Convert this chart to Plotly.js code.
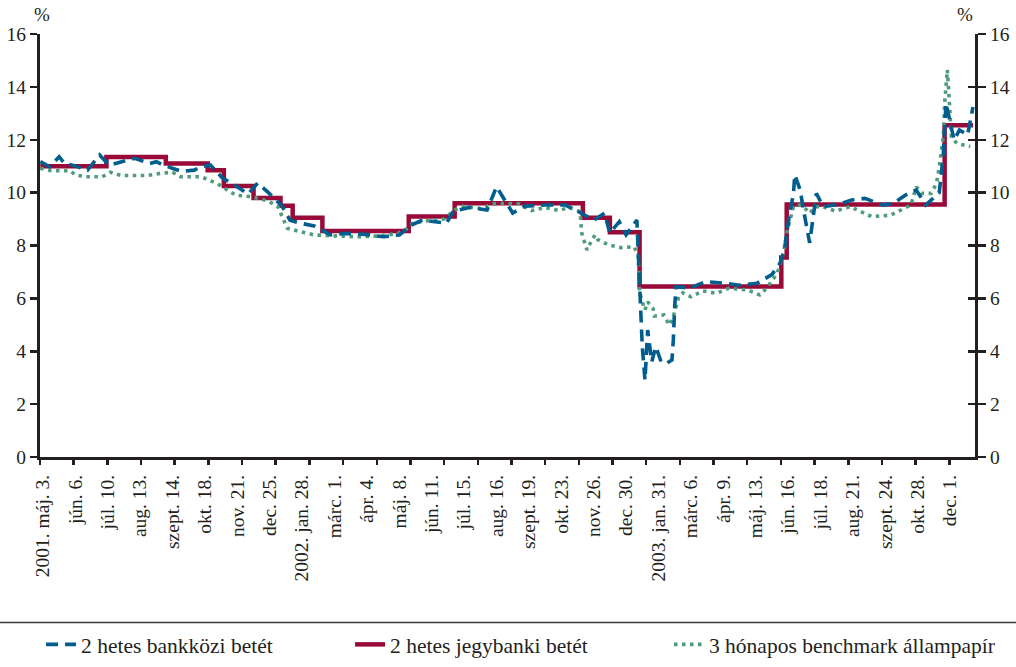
<!DOCTYPE html>
<html>
<head>
<meta charset="utf-8">
<script src="https://cdn.plot.ly/plotly-3.0.1.min.js"></script>
<style>html,body{margin:0;padding:0;background:#fff;}#chart{width:1016px;height:667px;}</style>
</head>
<body>
<div id="chart"></div>
<script>
// ---- data ----
const tickLabelDates = ["2001-05-03","2001-06-06","2001-07-10","2001-08-13","2001-09-14","2001-10-18","2001-11-21","2001-12-25",
  "2002-01-28","2002-03-01","2002-04-04","2002-05-08","2002-06-11","2002-07-15","2002-08-16","2002-09-19","2002-10-23","2002-11-26","2002-12-30",
  "2003-01-31","2003-03-06","2003-04-09","2003-05-13","2003-06-16","2003-07-18","2003-08-21","2003-09-24","2003-10-28","2003-12-01"];
const tickLabels = ["2001. máj. 3.","jún. 6.","júl. 10.","aug. 13.","szept. 14.","okt. 18.","nov. 21.","dec. 25.",
  "2002. jan. 28.","márc. 1.","ápr. 4.","máj. 8.","jún. 11.","júl. 15.","aug. 16.","szept. 19.","okt. 23.","nov. 26.","dec. 30.",
  "2003. jan. 31.","márc. 6.","ápr. 9.","máj. 13.","jún. 16.","júl. 18.","aug. 21.","szept. 24.","okt. 28.","dec. 1."];

const blueName = "2 hetes bankközi betét";
const blueDates = ["2001-05-01","2001-05-10","2001-05-21","2001-05-25","2001-06-04","2001-06-19","2001-07-02","2001-07-11","2001-07-23","2001-08-07",
  "2001-08-22","2001-08-29","2001-09-05","2001-09-25","2001-10-08","2001-10-15","2001-10-24","2001-11-06","2001-11-20","2001-12-03",
  "2001-12-12","2001-12-24","2002-01-07","2002-01-11","2002-01-15","2002-01-24","2002-02-08","2002-02-26","2002-03-14","2002-04-03",
  "2002-04-22","2002-05-08","2002-05-21","2002-05-31","2002-06-14","2002-06-26","2002-07-03","2002-07-19","2002-08-07","2002-08-16",
  "2002-09-03","2002-09-16","2002-10-07","2002-10-28","2002-11-08","2002-11-26","2002-12-06","2002-12-12","2002-12-23","2002-12-30",
  "2003-01-09","2003-01-13","2003-01-14","2003-01-15","2003-01-17","2003-01-20","2003-01-21","2003-01-24","2003-01-29","2003-02-04",
  "2003-02-10","2003-02-14","2003-02-17","2003-02-18","2003-02-19","2003-03-05","2003-03-21","2003-04-09","2003-04-25","2003-05-14",
  "2003-05-29","2003-06-06","2003-06-11","2003-06-17","2003-06-20","2003-06-23","2003-06-27","2003-07-01","2003-07-08","2003-07-15",
  "2003-07-22","2003-08-07","2003-08-20","2003-09-03","2003-09-22","2003-10-02","2003-10-15","2003-10-27","2003-11-05","2003-11-19",
  "2003-11-24","2003-11-26","2003-12-02","2003-12-04","2003-12-10","2003-12-18","2003-12-24"];
const blueValues = [11.17,10.98,11.36,11.10,11.04,10.85,11.42,11.04,11.15,11.30,
  11.10,11.17,11.04,10.80,10.85,10.98,11.05,10.55,10.25,9.95,
  10.36,10.00,9.50,9.10,8.96,8.85,8.74,8.40,8.46,8.42,
  8.33,8.40,8.77,8.96,8.90,8.84,9.30,9.44,9.34,10.22,
  9.23,9.49,9.53,9.53,9.30,8.96,9.22,8.47,8.90,8.40,
  8.96,6.19,5.18,4.17,2.91,3.67,4.80,3.60,4.17,3.60,
  3.54,3.67,4.42,5.68,6.44,6.39,6.63,6.58,6.50,6.57,
  6.90,7.33,7.75,9.15,9.97,10.67,10.10,9.47,8.10,9.97,
  9.47,9.56,9.72,9.78,9.53,9.59,9.91,10.10,9.53,10.00,
  11.42,13.38,12.37,11.99,12.37,12.18,13.24];

const redName = "2 hetes jegybanki betét";
const redDates = ["2001-05-01","2001-07-09","2001-09-07","2001-10-22","2001-11-07","2001-12-07","2002-01-04","2002-01-17","2002-02-18",
  "2002-05-17","2002-07-04","2002-11-14","2002-12-12","2003-01-13","2003-06-09","2003-06-13","2003-11-25","2003-12-24"];
const redValues = [11.00,11.35,11.10,10.85,10.25,9.80,9.50,9.05,8.55,9.10,9.60,9.05,8.50,6.45,7.55,9.55,12.55,12.55];

const greenName = "3 hónapos benchmark állampapír";
const greenDates = ["2001-05-01","2001-05-11","2001-05-31","2001-06-06","2001-06-18","2001-07-04","2001-07-12","2001-07-24","2001-08-21","2001-09-03",
  "2001-09-14","2001-09-24","2001-10-15","2001-10-23","2001-10-31","2001-11-09","2001-11-20","2001-12-05","2001-12-24","2002-01-02",
  "2002-01-08","2002-01-11","2002-01-25","2002-02-08","2002-02-26","2002-03-26","2002-04-18","2002-05-07","2002-05-15","2002-05-22",
  "2002-06-05","2002-06-24","2002-07-04","2002-07-12","2002-07-31","2002-08-15","2002-09-09","2002-09-23","2002-10-07","2002-10-21",
  "2002-10-31","2002-11-12","2002-11-13","2002-11-19","2002-11-22","2002-11-27","2002-11-29","2002-12-11","2002-12-24","2003-01-07",
  "2003-01-10","2003-01-13","2003-01-15","2003-01-17","2003-01-21","2003-01-27","2003-01-28","2003-02-06","2003-02-12","2003-02-17",
  "2003-02-21","2003-02-26","2003-03-06","2003-03-19","2003-04-02","2003-04-15","2003-05-05","2003-05-16","2003-05-23","2003-06-04",
  "2003-06-09","2003-06-11","2003-06-13","2003-06-18","2003-06-20","2003-06-27","2003-07-04","2003-07-08","2003-07-14","2003-07-22",
  "2003-08-04","2003-08-19","2003-08-26","2003-09-10","2003-09-30","2003-10-09","2003-10-21","2003-10-27","2003-10-31","2003-11-11",
  "2003-11-17","2003-11-19","2003-11-24","2003-11-25","2003-11-27","2003-11-28","2003-12-01","2003-12-02","2003-12-08","2003-12-15",
  "2003-12-22"];
const greenValues = [10.92,10.83,10.83,10.67,10.60,10.60,10.77,10.65,10.65,10.73,
  10.77,10.60,10.60,10.48,10.35,10.12,9.90,9.85,9.68,9.47,
  8.96,8.65,8.52,8.40,8.37,8.33,8.36,8.46,8.61,8.84,
  8.93,9.00,9.34,9.49,9.40,9.59,9.59,9.32,9.44,9.32,
  9.44,9.28,8.50,7.83,8.14,8.40,8.22,8.02,7.92,7.95,
  7.60,6.25,5.87,5.56,5.87,5.62,5.33,5.37,4.99,5.31,
  6.06,6.21,6.06,6.28,6.19,6.38,6.32,6.13,6.38,6.95,
  7.45,7.83,8.46,9.09,9.47,9.53,9.34,9.22,9.47,9.47,
  9.30,9.47,9.34,9.09,9.15,9.34,9.53,10.22,9.97,9.97,
  10.35,10.98,12.11,13.38,14.64,13.88,13.12,12.11,11.86,11.80,
  11.74];

// ---- business-day index (axis skips weekends like the original) ----
const BASE = Date.parse("2001-05-03T00:00:00Z");
function bday(s) {
  const t = Date.parse(s + "T00:00:00Z");
  let n = 0;
  if (t >= BASE) {
    for (let d = BASE; d < t; d += 864e5) { const w = new Date(d).getUTCDay(); if (w !== 0 && w !== 6) n++; }
  } else {
    for (let d = t; d < BASE; d += 864e5) { const w = new Date(d).getUTCDay(); if (w !== 0 && w !== 6) n--; }
  }
  return n;
}

const INK = "#231f20";
const FONT = "Liberation Serif";
const xRange = [-2.2, 690.5];
const yRange = [0, 16];

const traces = [
  { name: blueName, x: blueDates.map(bday), y: blueValues, xaxis: "x2", yaxis: "y2", type: "scatter", mode: "lines",
    line: { color: "#005e8e", width: 3.6, dash: "12px,7px" }, legend: "legend", hoverinfo: "skip" },
  { name: redName, x: redDates.map(bday), y: redValues, xaxis: "x", yaxis: "y", type: "scatter", mode: "lines",
    line: { color: "#990a38", width: 4.5, shape: "hv" }, legend: "legend2", hoverinfo: "skip" },
  { name: greenName, x: greenDates.map(bday), y: greenValues, xaxis: "x", yaxis: "y3", type: "scatter", mode: "lines",
    line: { color: "#4f9b7c", width: 3.6, dash: "3.5px,4.5px" }, legend: "legend3", hoverinfo: "skip" }
];

const tickFont = { family: FONT, size: 19.5, color: INK };
const legFont = { family: FONT, size: 21.5, color: INK };
const legY = -0.443;

const layout = {
  width: 1016, height: 667,
  font: { family: FONT, color: INK },
  margin: { l: 40, r: 41, t: 34, b: 210, autoexpand: false },
  paper_bgcolor: "#fff", plot_bgcolor: "#fff",
  showlegend: true,
  xaxis: {
    range: xRange, tickmode: "array", tickvals: tickLabelDates.map(bday), ticktext: tickLabels,
    tickangle: -90, ticks: "outside", ticklen: 7, tickcolor: "rgba(0,0,0,0)",
    tickfont: tickFont, showline: true, linecolor: INK, linewidth: 3, showgrid: false, zeroline: false,
    fixedrange: true, automargin: false
  },
  xaxis2: {
    range: xRange, overlaying: "x", anchor: "y", side: "bottom", tickmode: "linear", tick0: xRange[0], dtick: 24.95,
    ticks: "outside", ticklen: 7, tickwidth: 2.5, tickcolor: INK, showticklabels: false,
    showline: false, showgrid: false, zeroline: false, fixedrange: true
  },
  yaxis: {
    range: yRange, dtick: 2, ticks: "outside", ticklen: 7, tickwidth: 2.5, tickcolor: INK,
    tickfont: tickFont, showline: true, linecolor: INK, linewidth: 3, showgrid: false, zeroline: false, fixedrange: true, automargin: false
  },
  yaxis2: {
    range: yRange, dtick: 2, overlaying: "y", side: "right", anchor: "x", ticks: "outside", ticklen: 8, tickwidth: 2.5, tickcolor: INK,
    tickfont: tickFont, showline: true, linecolor: INK, linewidth: 3, showgrid: false, zeroline: false, fixedrange: true, automargin: false
  },
  yaxis3: {
    range: yRange, dtick: 2, overlaying: "y", side: "right", anchor: "x", ticks: "inside", ticklen: 7, tickwidth: 2.5, tickcolor: INK,
    showticklabels: false, showline: false, showgrid: false, zeroline: false, fixedrange: true
  },
  legend: { x: 0.0011, y: legY, xanchor: "left", yanchor: "middle", orientation: "h", font: legFont, bgcolor: "rgba(0,0,0,0)" },
  legend2: { x: 0.3316, y: legY, xanchor: "left", yanchor: "middle", orientation: "h", font: legFont, bgcolor: "rgba(0,0,0,0)" },
  legend3: { x: 0.6727, y: legY, xanchor: "left", yanchor: "middle", orientation: "h", font: legFont, bgcolor: "rgba(0,0,0,0)" },
  shapes: [
    { type: "line", xref: "paper", yref: "paper", x0: -0.05, x1: 1.05, y0: -0.3913, y1: -0.3913,
      line: { color: "#3a3a3a", width: 1.5 } }
  ],
  annotations: [
    { text: "%", xref: "paper", yref: "paper", x: 0.002, y: 1.045, xanchor: "center", yanchor: "middle", showarrow: false, font: { family: FONT, size: 19, color: INK } },
    { text: "%", xref: "paper", yref: "paper", x: 0.989, y: 1.045, xanchor: "center", yanchor: "middle", showarrow: false, font: { family: FONT, size: 19, color: INK } }
  ]
};

Plotly.newPlot("chart", traces, layout, { displayModeBar: false, staticPlot: true });
</script>
</body>
</html>
